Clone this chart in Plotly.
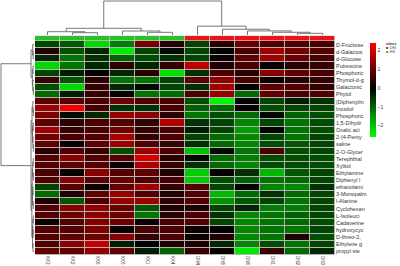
import plotly.graph_objects as go

# ---------------- data ----------------
col_labels = ["KK3", "KK2", "KK6", "KK5", "KK1", "KK4", "DN4", "DN5", "DN6", "DN1", "DN2", "DN3"]
col_class = ["KK", "KK", "KK", "KK", "KK", "KK", "DN", "DN", "DN", "DN", "DN", "DN"]
row_labels = ["D-Fructose", "d-Galactos", "d-Glucose", "Putrescine", "Phosphoric", "Thymol-d-g",
              "Galactonic", "Phytol", "(Diphenylm", "Inositol", "Phosphoric", "1,5-Dihydr",
              "Oxalic aci", "2-(4-Penty", "saline", "2-O-Glycer", "Terephthal", "Xylitol",
              "Ethylamine", "Diphenyl l", "ethanolami", "3-Monopalm", "l-Alanine", "Cyclohexan",
              "L-Isoleuci", "Cadaverine", "hydroxycyc", "D-threo-2,", "Ethylene g", "propyl ste"]

values = [
    [-0.7, -0.9, -2.2, -1.3, 1.1, 0.4, -0.7, 0.4, 1.0, 0.8, 0.8, 0.7],
    [0.3, -0.8, -0.4, -2.4, -0.7, -0.1, -0.7, 0.0, 0.7, 1.5, 1.1, 0.8],
    [-0.4, -1.2, -0.5, -1.0, -0.8, -0.5, -0.7, 0.1, 0.9, 1.5, 1.0, 0.7],
    [-2.2, -1.2, -0.4, 0.4, -0.4, 0.5, 1.8, 0.3, 0.7, 0.1, 0.4, 0.5],
    [-0.7, -0.3, 0.0, -0.4, 0.4, -2.3, -0.5, 0.7, 0.4, 1.3, 0.9, 0.7],
    [0.5, -0.9, 0.4, -1.2, -1.2, -0.7, 0.9, 1.4, 0.7, 0.1, 0.4, 0.5],
    [-0.8, -2.2, 0.5, -0.4, -0.1, -0.7, -0.5, 1.5, 0.0, 0.9, 0.8, 0.5],
    [-1.1, -0.3, 0.5, 0.0, -1.2, -1.1, 0.7, 1.4, -1.1, 0.9, 0.7, 0.7],
    [0.9, 0.8, 0.7, 1.0, 0.8, 0.7, -0.8, -2.5, 0.0, -0.7, -0.3, -0.5],
    [1.5, 2.3, 0.7, -0.5, -0.5, 0.7, -1.0, -1.1, 0.0, -0.8, -0.7, -0.7],
    [1.2, -0.1, -0.4, 1.4, 1.3, 0.4, -1.2, -0.8, -1.1, -0.1, -1.0, -0.8],
    [0.9, 0.4, 0.7, 0.8, 0.5, 1.7, -0.5, -0.7, -1.4, -0.7, -1.2, -0.8],
    [1.5, 0.5, 0.7, 1.1, 0.5, 0.7, -0.3, -0.7, -1.6, 0.0, -1.2, -0.8],
    [1.1, 0.7, 0.8, 1.6, 0.5, 0.7, -0.7, -1.1, -1.4, -0.7, -1.2, -0.7],
    [0.9, 0.1, 0.9, 1.5, 0.8, 0.5, -0.5, -1.1, -1.4, -0.8, -0.9, -0.7],
    [0.4, 0.8, 0.5, -0.8, 1.5, 0.7, -2.0, -0.1, -1.2, 0.7, -0.8, -0.7],
    [0.8, 1.3, 0.8, 0.8, 2.0, 0.4, -0.1, -1.1, -1.3, -0.8, -0.8, -0.8],
    [0.8, 0.9, 0.8, 0.1, 1.6, 0.5, -0.5, -1.1, -1.4, -0.8, -0.8, -0.8],
    [0.7, 0.1, 1.3, 0.8, 0.9, 0.3, -2.1, 0.0, -0.5, -1.9, -0.9, -0.7],
    [0.8, 1.3, 0.9, 1.0, 0.8, 0.7, -2.1, -0.8, -1.0, -1.2, -1.1, -0.7],
    [-0.7, 0.8, 0.1, 0.9, 1.5, 0.5, 0.8, -0.7, 0.0, -1.4, -1.4, -0.5],
    [-1.1, 0.3, 0.9, 1.4, 0.8, 0.3, 0.8, -1.9, -1.1, -0.5, -1.1, -0.7],
    [0.3, -0.9, 0.7, 1.4, 1.5, 0.5, 0.8, -1.5, -0.9, -0.7, -1.2, -0.7],
    [0.8, 1.3, 1.4, 1.0, -0.9, 0.3, 0.3, -0.7, -0.4, -1.3, -1.3, -0.7],
    [0.8, 1.0, 1.3, 1.0, -1.2, 0.4, 0.7, -0.5, -1.4, -1.2, -1.0, -0.7],
    [0.1, 0.8, 1.2, 1.0, 0.1, 0.7, 0.8, -0.7, -1.4, -1.2, -1.1, -0.8],
    [0.8, 0.8, 1.2, 0.1, 0.7, 0.7, 0.1, 0.0, -1.4, -1.2, -1.2, -0.7],
    [0.8, 0.9, 1.0, 1.3, 0.5, 0.7, 0.1, 0.3, -1.4, -1.2, 0.3, -0.8],
    [0.8, 1.3, 1.9, -0.3, 0.0, 0.3, 0.3, -0.4, -1.4, -0.8, -1.2, -0.7],
    [0.9, 0.9, 1.4, 0.9, -0.3, -1.0, 0.5, 0.1, -2.4, 0.5, -1.1, -0.4],
]

# dendrogram merges (child_a, child_b, height); ids >= n refer to earlier merges
col_merges = [
    (1, 2, 0.68), (0, 12, 0.97), (4, 5, 0.79), (3, 14, 1.18), (13, 15, 1.97),
    (10, 11, 0.5), (9, 17, 0.8), (8, 18, 1.2), (7, 19, 1.7), (6, 20, 2.6),
    (16, 21, 10.0),
]
row_merges = [
    (1, 2, 0.25), (0, 30, 0.4), (3, 4, 0.3), (6, 7, 0.2), (5, 33, 0.35), (32, 34, 0.5),
    (31, 35, 0.9), (9, 10, 0.2), (8, 37, 0.35), (11, 12, 0.25), (14, 15, 0.2), (13, 40, 0.3),
    (39, 41, 0.45), (38, 42, 0.6), (16, 17, 0.25), (18, 19, 0.2), (44, 45, 0.4), (20, 21, 0.3),
    (22, 23, 0.2), (47, 48, 0.45), (46, 49, 0.55), (24, 25, 0.2), (26, 27, 0.25), (51, 52, 0.35),
    (28, 29, 0.3), (53, 54, 0.45), (50, 55, 0.65), (43, 56, 0.9), (36, 57, 10.0),
]

ZMIN, ZMAX = -2.6, 2.4
class_colors = {"DN": "#E8151B", "KK": "#2DBE2D"}

# ---------------- helpers ----------------
W, H = 400, 266
def fx(p):
    return p / W
def fy(p):
    return 1 - p / H

def dendro_lines(n, merges):
    pos = {i: float(i) for i in range(n)}
    hgt = {i: 0.0 for i in range(n)}
    xs, ys = [], []
    for k, (a, b, h) in enumerate(merges):
        nid = n + k
        xs += [pos[a], pos[a], pos[b], pos[b], None]
        ys += [hgt[a], h, h, hgt[b], None]
        pos[nid] = (pos[a] + pos[b]) / 2
        hgt[nid] = h
    return xs, ys

nr, nc = len(row_labels), len(col_labels)
f0 = -ZMIN / (ZMAX - ZMIN)
cs = [[0, "#00FF00"], [f0, "#000000"], [1, "#FF0000"]]

font_fam = "Liberation Sans, Arial, sans-serif"
txt_col = "#333333"

fig = go.Figure()
fig.add_trace(go.Heatmap(
    z=values, x=list(range(nc)), y=list(range(nr)), colorscale=cs, zmin=ZMIN, zmax=ZMAX,
    xgap=1, ygap=1, xaxis="x", yaxis="y", hoverinfo="skip",
    colorbar=dict(x=fx(370), xanchor="left", y=fy(43), yanchor="top", len=94 / H, lenmode="fraction",
                  thickness=6, thicknessmode="pixels", outlinewidth=0, xpad=0, ypad=0,
                  tickvals=[-2, -1, 0, 1, 2], ticks="", tickfont=dict(size=5, color=txt_col, family=font_fam)),
))
codes = [[0 if c == "KK" else 1 for c in col_class]]
fig.add_trace(go.Heatmap(
    z=codes, x=list(range(nc)), y=[0], zmin=0, zmax=1, showscale=False, xgap=1,
    colorscale=[[0, class_colors["KK"]], [0.5, class_colors["KK"]], [0.5, class_colors["DN"]], [1, class_colors["DN"]]],
    xaxis="x2", yaxis="y2", hoverinfo="skip"))

cx, cy = dendro_lines(nc, col_merges)
fig.add_trace(go.Scatter(x=cx, y=cy, mode="lines", line=dict(color="#555555", width=0.8),
                         xaxis="x3", yaxis="y3", hoverinfo="skip", showlegend=False))
rx, ry = dendro_lines(nr, row_merges)
fig.add_trace(go.Scatter(x=ry, y=rx, mode="lines", line=dict(color="#555555", width=0.8),
                         xaxis="x4", yaxis="y4", hoverinfo="skip", showlegend=False))

hx = [fx(35), fx(335)]
hy = [fy(255), fy(41)]
hid = dict(visible=False, showgrid=False, zeroline=False)
fig.update_layout(
    width=W, height=H, margin=dict(l=0, r=0, t=0, b=0, autoexpand=False),
    paper_bgcolor="white", plot_bgcolor="rgba(0,0,0,0)", showlegend=False,
    font=dict(family=font_fam, color=txt_col),
    xaxis=dict(domain=hx, range=[-0.5, nc - 0.5], tickvals=list(range(nc)), ticktext=col_labels,
               tickangle=90, tickfont=dict(size=4.5, color=txt_col), ticks="", showgrid=False,
               zeroline=False, anchor="y", showline=False, automargin=False),
    yaxis=dict(domain=hy, range=[nr - 0.5, -0.5], tickvals=list(range(nr)), ticktext=row_labels,
               side="right", tickfont=dict(size=5.5, color=txt_col), ticks="", showgrid=False,
               zeroline=False, anchor="x", showline=False, automargin=False),
    xaxis2=dict(domain=hx, range=[-0.5, nc - 0.5], anchor="y2", **hid),
    yaxis2=dict(domain=[fy(40.5), fy(35.8)], range=[-0.5, 0.5], anchor="x2", **hid),
    xaxis3=dict(domain=hx, range=[-0.5, nc - 0.5], anchor="y3", **hid),
    yaxis3=dict(domain=[fy(35), 1], range=[0, 10.3], anchor="x3", **hid),
    xaxis4=dict(domain=[0, fx(34)], range=[10.3, 0], anchor="y4", **hid),
    yaxis4=dict(domain=hy, range=[nr - 0.5, -0.5], anchor="x4", **hid),
    shapes=[
        dict(type="rect", xref="paper", yref="paper", x0=hx[0], x1=hx[1], y0=hy[0], y1=hy[1],
             fillcolor="#b4b4b4", line=dict(width=0), layer="below"),
        dict(type="rect", xref="paper", yref="paper", x0=hx[0], x1=hx[1], y0=fy(40.5), y1=fy(35.8),
             fillcolor="#b4b4b4", line=dict(width=0), layer="below"),
    ],
)

# class legend
legend_items = ["DN", "KK"]
anns = [dict(x=fx(384), y=fy(43.5), xref="paper", yref="paper", text="<b>class</b>", showarrow=False,
             xanchor="left", yanchor="middle", font=dict(size=4.2, color=txt_col))]
for i, name in enumerate(legend_items):
    anns.append(dict(x=fx(384), y=fy(47.5 + 3.6 * i), xref="paper", yref="paper",
                     text=f'<span style="color:{class_colors[name]}">■</span> {name}',
                     showarrow=False, xanchor="left", yanchor="middle", font=dict(size=4.2, color=txt_col)))
fig.update_layout(annotations=anns)

fig.write_html("out.html", config={"displayModeBar": False},
               post_script="document.body.style.margin='0px';document.body.style.padding='0px';")
